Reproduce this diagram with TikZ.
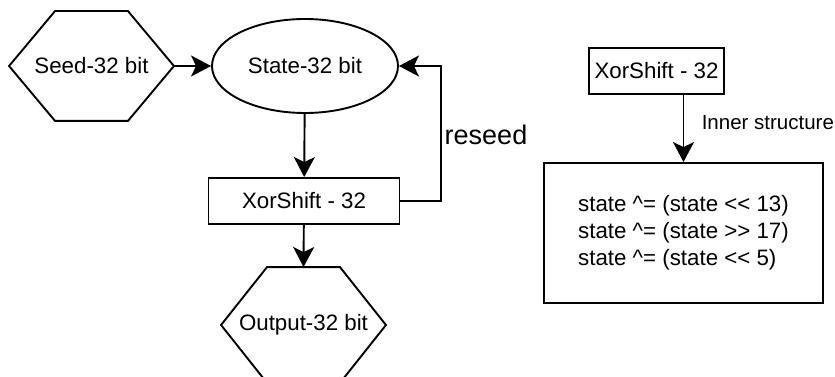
\documentclass[tikz,border=0pt]{standalone}
\usepackage{fontspec}
\setmainfont{Liberation Sans}
\usepackage{tikz}
\usetikzlibrary{shapes.geometric,arrows.meta}

\tikzset{
  txt/.style={font=\fontsize{22.3}{27}\selectfont},
  hexbox/.style={txt, rectangle, minimum width=163pt, minimum height=108pt, inner sep=0pt},
  blockbox/.style={txt, draw, rectangle, minimum height=46pt, inner sep=0pt},
  arr/.style={-{Stealth[length=20pt,width=21pt,inset=5pt]}},
}
% outline of a hexagon node, cut 46pt in from each side
\newcommand{\hexline}[1]{%
  \draw (#1.west) -- ([xshift=46pt]#1.north west) -- ([xshift=-46pt]#1.north east)
    -- (#1.east) -- ([xshift=-46pt]#1.south east) -- ([xshift=46pt]#1.south west) -- cycle;}

\begin{document}
\begin{tikzpicture}[x=1pt, y=-1pt, line width=1.9pt]
    \clip (0,0) rectangle (835,377);
    \useasboundingbox (0,0) rectangle (835,377);
    % left chain
    \node[hexbox] (seed) at (91.5,66) {Seed-32 bit};
    \hexline{seed}
    \node[txt, draw, ellipse, minimum width=186pt, minimum height=94pt] (state) at (305,66) {State-32 bit};
    \node[blockbox, minimum width=191pt] (xor) at (304,201) {XorShift - 32};
    \node[hexbox, minimum height=114pt] (out) at (303.5,325) {Output-32 bit};
    \hexline{out}
    \coordinate (loop) at (441,66);
    \draw[arr] (seed.east) -- (state);
    \draw[arr] (state) -- (xor);
    \draw[arr] (xor) -- (out.north);
    \draw[arr] (xor.east) -| (loop) -- (state.east);
    \node[font=\fontsize{27}{32}\selectfont] (reseed) at (486,135) {reseed};
    % inner structure
    \node[blockbox, minimum width=135pt] (xor2) at (656.5,71) {XorShift - 32};
    \node[txt, draw, rectangle, minimum width=279pt, minimum height=140pt, align=left] (inner) at (683.5,233)
        {state \^{}= (state <{}< 13)\\state \^{}= (state >{}> 17)\\state \^{}= (state <{}< 5)};
    \draw[arr] (xor2.south -| inner.north) -- (inner.north) node[midway, right, xshift=14pt, yshift=6pt, font=\fontsize{20.5}{24}\selectfont] {Inner structure};
\end{tikzpicture}
\end{document}
